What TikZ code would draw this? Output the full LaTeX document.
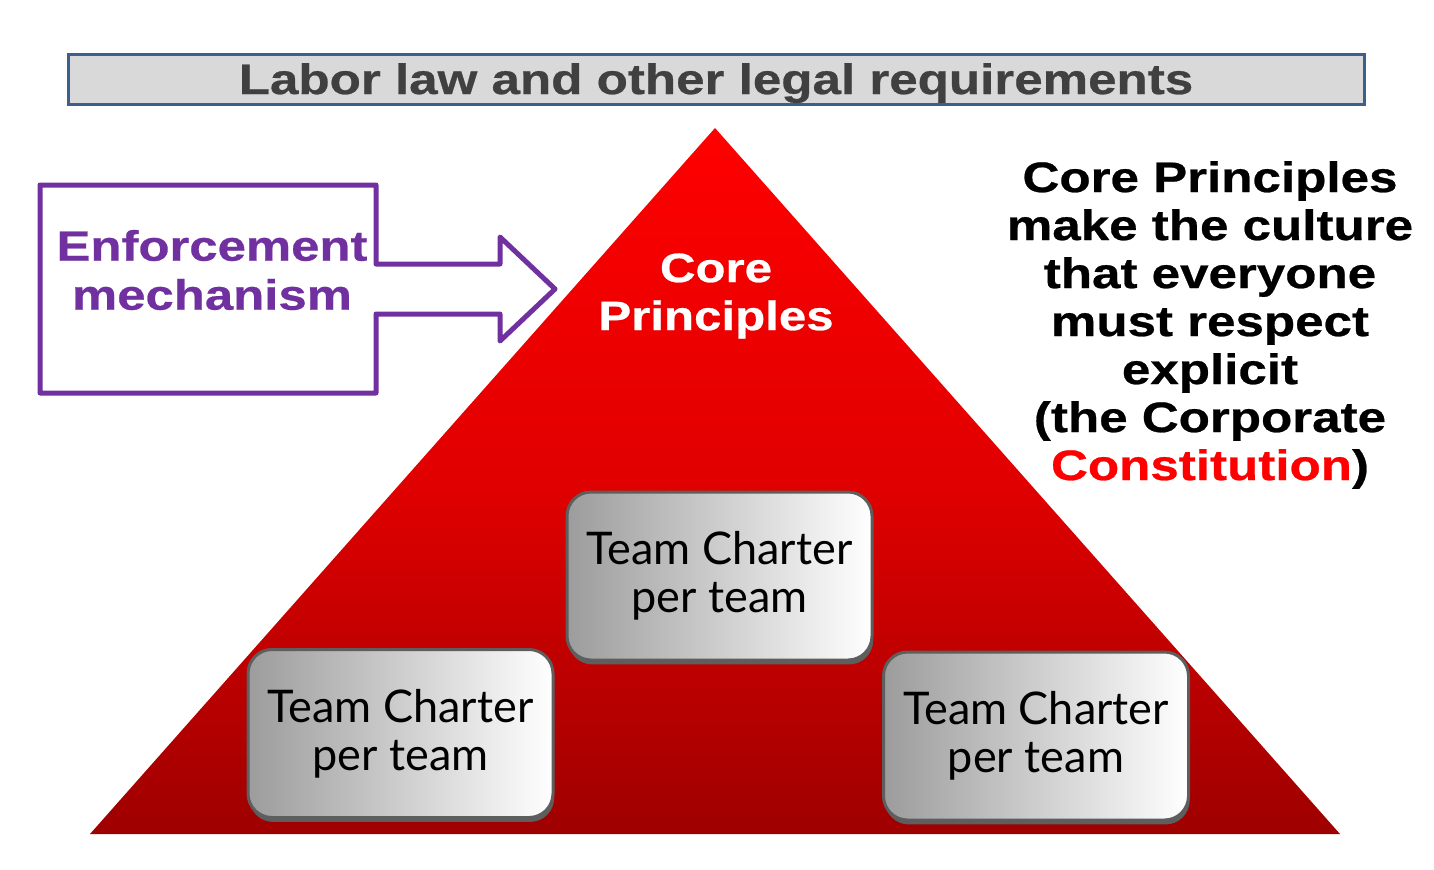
\documentclass[tikz,border=0pt]{standalone}
\usepackage{fontspec}
\usetikzlibrary{shadows}
\newfontfamily\heavy{Liberation Sans}[FakeStretch=1.2,FakeBold=0.6]
\newfontfamily\avenir{Lato}
\definecolor{titlegray}{HTML}{D9D9D9}
\definecolor{titleblue}{HTML}{3D5F8C}
\definecolor{titletext}{HTML}{404040}
\definecolor{purp}{HTML}{7030A0}
\definecolor{redtop}{HTML}{FF0000}
\definecolor{redbot}{HTML}{9E0000}
\definecolor{boxedge}{HTML}{5E5E5E}
\definecolor{boxleft}{HTML}{9C9C9C}
\tikzset{
  charter/.style={draw=boxedge, line width=1.5pt, rounded corners=12pt,
    left color=boxleft, right color=white,
    minimum width=152.5pt, minimum height=84pt, align=center,
    font=\avenir\fontsize{22.5}{24}\selectfont, text=black, inner sep=0pt,
    drop shadow={shadow xshift=0.6pt, shadow yshift=-2.2pt, fill=boxedge, opacity=1}},
  bigtext/.style={align=center, inner sep=0pt, font=\heavy\bfseries\fontsize{21.3}{24}\selectfont},
}
\begin{document}
\begin{tikzpicture}[x=0.5pt,y=-0.5pt]
\useasboundingbox (0,0) rectangle (1434,869);
% title bar
\node[draw=titleblue, line width=1.5pt, fill=titlegray, minimum width=648pt, minimum height=25pt, inner sep=0pt,
      text=titletext] (title) at (716,79) {};
\node[inner sep=0pt, font=\heavy\bfseries\fontsize{21.3}{24}\selectfont, text=titletext, anchor=base] (titletxt) at (716,94) {Labor law and other legal requirements};
% pyramid
\coordinate (apex) at (715,128);
\coordinate (bl) at (90,834);
\coordinate (br) at (1340,834);
\shade[top color=redtop, bottom color=redbot, middle color=red!88!black] (apex) -- (br) -- (bl) -- cycle;
% enforcement arrow
\draw[purp, line width=2.5pt, line join=round]
  (40,185) -- (376,185) -- (376,264) -- (500,264) -- (500,237) -- (555,289)
  -- (500,341) -- (500,314) -- (376,314) -- (376,393) -- (40,393) -- cycle;
\node[bigtext, text=purp, font=\heavy\bfseries\fontsize{21.2}{24.5}\selectfont] (enf) at (212,270) {Enforcement\\mechanism};
% core principles
\node[bigtext, text=white, font=\heavy\bfseries\fontsize{20.5}{24}\selectfont] (core) at (716,296) {Core\\Principles};
% right text
\node[bigtext, text=black] (expl) at (1210,325)
  {Core Principles\\make the culture\\that everyone\\must respect\\explicit\\(the Corporate\\\textcolor{redtop}{Constitution})};
% charters
\node[charter] (c1) at (719.5,576) {Team Charter\\per team};
\node[charter] (c2) at (400.5,733.5) {Team Charter\\per team};
\node[charter] (c3) at (1036,736) {Team Charter\\per team};
\end{tikzpicture}
\end{document}
